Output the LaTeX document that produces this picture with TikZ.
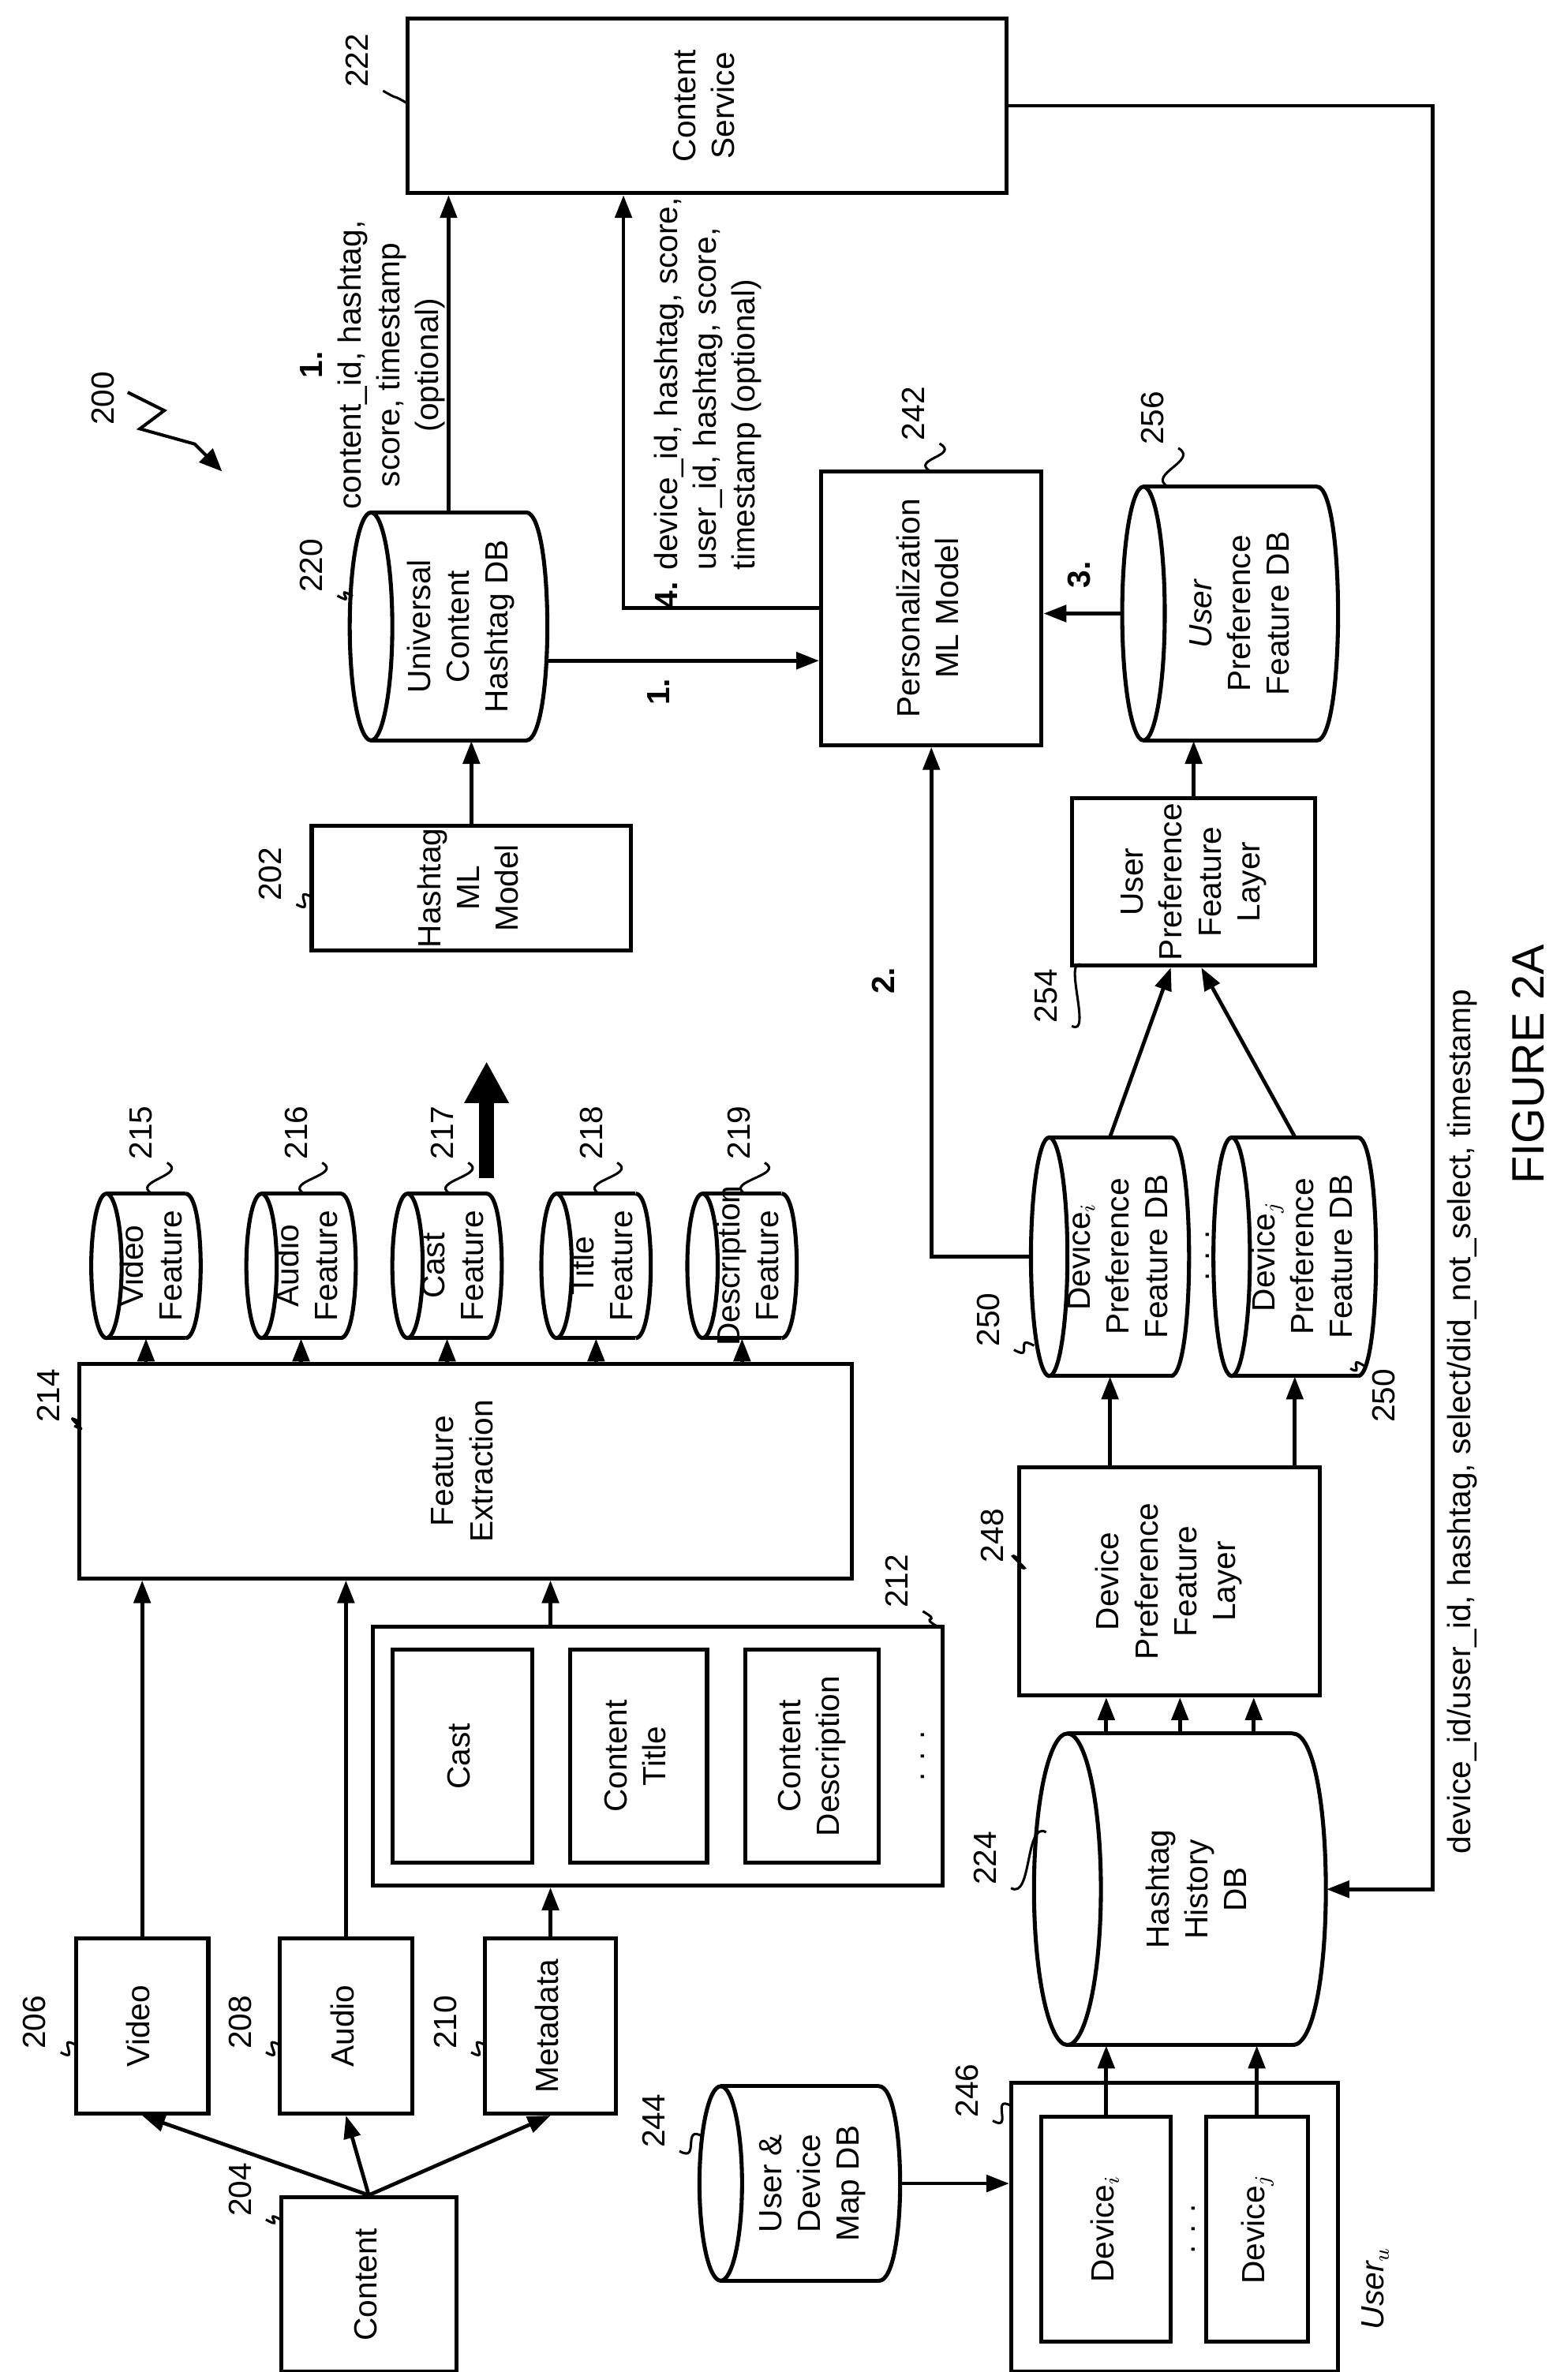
\documentclass[tikz,border=0pt]{standalone}
\usepackage{fontspec}
\setmainfont{Liberation Sans}
\usetikzlibrary{positioning,fit,arrows.meta}
\newcommand{\rt}[1]{\rotatebox{90}{\begin{tabular}{@{}c@{}}#1\end{tabular}}}
\newcommand{\rtl}[1]{\rotatebox{90}{\begin{tabular}{@{}l@{}}#1\end{tabular}}}
% box: name, x1, y1, x2, y2 (y downwards), text
\newcommand{\bx}[6]{%
  \node[box,fit={(#2,-#3)(#4,-#5)}] (#1) {};
  \node at (#1.center) {\rt{#6}};
}
% cylinder: name, x1, y1, x2, y2 (outer, y downwards), cap radius, text
\newcommand{\dbcyl}[7]{%
  \node[dbfit,fit={(#2,-#3)(#4,-#5)}] (#1) {};
  \node at ([xshift=#6*0.012cm]#1.center) {\rt{#7}};
  \draw[line] ({#2+#6},-#3) -- ({#4-#6},-#3);
  \draw[line] ({#2+#6},-#5) -- ({#4-#6},-#5);
  \draw[line] ({#2+#6},{-(#3+#5)/2}) ellipse [x radius={#6*0.02cm},y radius={(#5-#3)*0.01cm}];
  \draw[line] ({#4-#6},-#3) .. controls ({#4-#6+1.33*#6},-#3) and ({#4-#6+1.33*#6},-#5) .. ({#4-#6},-#5);
}
\tikzset{
  line/.style={line width=1.5pt},
  box/.style={draw,line width=1.5pt,inner sep=0pt},
  dbfit/.style={inner sep=0pt},
  arr/.style={line width=1.4pt,-{Triangle[length=0.3cm,width=0.22cm]}},
  num/.style={inner sep=1pt},
  wig/.style={line width=0.9pt},
}
\begin{document}
\begin{tikzpicture}[x=0.02cm,y=0.02cm,font=\fontsize{12}{14.5}\selectfont]
\useasboundingbox (0,0) rectangle (1031,-1560);
% boxes
\bx{cs}{268}{12}{662}{127}{Content\\Service}
\bx{hml}{205}{543}{415}{625}{Hashtag\\ML\\Model}
\bx{pers}{540}{310}{685}{490}{Personalization\\ML Model}
\bx{upl}{705}{525}{865}{635}{User\\Preference\\Feature\\Layer}
\bx{dpl}{670}{965}{868}{1115}{Device\\Preference\\Feature\\Layer}
\bx{fe}{52}{897}{560}{1038}{Feature\\Extraction}
\bx{video}{50}{1275}{137}{1390}{Video}
\bx{audio}{184}{1275}{271}{1390}{Audio}
\bx{meta}{319}{1275}{405}{1390}{Metadata}
\bx{content}{185}{1445}{300}{1560}{Content}
\bx{grp}{245}{1070}{620}{1240}{}
\bx{cast}{258}{1085}{350}{1225}{Cast}
\bx{ctitle}{375}{1085}{465}{1225}{Content\\Title}
\bx{cdesc}{490}{1085}{578}{1225}{Content\\Description}
\node at (603,-1155) {\rt{. . .}};
\bx{user}{665}{1370}{880}{1560}{}
\bx{devi}{685}{1392}{770}{1540}{Device$_i$}
\bx{devj}{793}{1392}{860}{1540}{Device$_j$}
\node at (781,-1466) {\rt{. . .}};
\node at (905,-1505) {\rt{\textit{User$_u$}}};
% databases
\dbcyl{udb}{230}{337}{360}{487}{14}{Universal\\Content\\Hashtag DB}
\dbcyl{upfdb}{738}{320}{880}{487}{14}{\textit{User}\\Preference\\Feature DB}
\dbcyl{dpdbi}{678}{748}{782}{905}{12}{Device$_i$\\Preference\\Feature DB}
\dbcyl{dpdbj}{798}{748}{905}{905}{12}{Device$_j$\\Preference\\Feature DB}
\node at (790,-826) {\rt{. . .}};
\dbcyl{hhdb}{680}{1140}{872}{1345}{22}{Hashtag\\History\\DB}
\dbcyl{umdb}{460}{1372}{592}{1500}{14}{User \&\\Device\\Map DB}
\dbcyl{fv}{60}{785}{132}{880}{10}{Video\\Feature}
\dbcyl{fa}{162}{785}{234}{880}{10}{Audio\\Feature}
\dbcyl{fc}{258}{785}{330}{880}{10}{Cast\\Feature}
\dbcyl{ft}{356}{785}{428}{880}{10}{Title\\Feature}
\dbcyl{fd}{452}{785}{524}{880}{10}{Description\\Feature}
% connectors
\draw[arr] (content.north) -- (video.south);
\draw[arr] (content.north) -- (audio.south);
\draw[arr] (content.north) -- (meta.south);
\draw[arr] (video.north) -- (video.north |- fe.south);
\draw[arr] (audio.north) -- (audio.north |- fe.south);
\draw[arr] (meta.north) -- (meta.north |- grp.south);
\draw[arr] (meta.north |- grp.north) -- (meta.north |- fe.south);
\foreach \f in {fv,fa,fc,ft,fd}
  \draw[arr] (\f.south |- fe.north) -- (\f.south);
\draw[line width=0.2cm,-{Triangle[width=0.55cm,length=0.55cm]}] (320,-775) -- (320,-698);
\draw[arr] (hml.north) -- (hml.north |- udb.south);
\draw[arr] (udb.north) -- (udb.north |- cs.south);
\draw[arr] ([yshift=-0.45cm]udb.east) -- ([yshift=-0.45cm]udb.east -| pers.west);
\draw[arr] (pers.west) -| ([xshift=-1.1cm]cs.south);
\draw[arr] (upfdb.west) -- (upfdb.west -| pers.east);
\draw[arr] (upl.north) -- (upl.north |- upfdb.south);
\draw[arr] (dpdbi.west) -| (pers.south);
\draw[arr] (dpdbi.north) -- ([xshift=-0.3cm]upl.south);
\draw[arr] (dpdbj.north) -- ([xshift=0.1cm]upl.south);
\draw[arr] (dpdbi.south |- dpl.north) -- (dpdbi.south);
\draw[arr] (dpdbj.south |- dpl.north) -- (dpdbj.south);
\foreach \s in {-1,0,1}
  \draw[arr] ([xshift=\s*0.97cm]hhdb.north) -- ([xshift=\s*0.97cm]hhdb.north |- dpl.south);
\draw[arr] (devi.north) -- (devi.north |- hhdb.south);
\draw[arr] (devj.north) -- (devj.north |- hhdb.south);
\draw[arr] (umdb.east) -- (umdb.east -| user.west);
\coordinate (bus) at (942,0);
\draw[arr] (cs.east) -| (bus |- hhdb.east) -- (hhdb.east);
% edge labels
\node (lab1) at (245,-240) {\rt{\textbf{1.}\\content\_id, hashtag,\\score, timestamp\\(optional)}};
\node (lab4) at (466,-265) {\rtl{\textbf{4.} device\_id, hashtag, score,\\\hphantom{\textbf{4.} }user\_id, hashtag, score,\\\hphantom{\textbf{4.} }timestamp (optional)}};
\node (lab1b) at (435,-455) {\rt{\textbf{1.}}};
\node (lab3) at (712,-378) {\rt{\textbf{3.}}};
\node (lab2) at (583,-645) {\rt{\textbf{2.}}};
\node (labsel) at (962,-935) {\rt{device\_id/user\_id, hashtag, select/did\_not\_select, timestamp}};
\node (fig) at (1005,-700) {\rotatebox{90}{\fontsize{17}{20}\selectfont FIGURE 2A}};
% reference numerals
\foreach \n/\x/\y/\tx/\ty in {222/237/40/268/68, 220/207/372/232/392, 202/180/575/205/590,
  242/603/272/612/310, 256/760/275/768/320, 254/690/655/712/635, 250/652/868/680/885,
  248/655/1010/670/1025, 224/650/1222/688/1205, 246/638/1375/665/1385, 244/432/1395/462/1405,
  212/592/1040/617/1070, 214/34/918/52/935, 206/25/1330/50/1345, 208/160/1330/184/1345,
  210/295/1330/319/1345, 204/160/1440/185/1460,
  215/95/745/100/785, 216/197/745/200/785, 217/293/745/296/785, 218/391/745/394/785, 219/488/745/490/785}
{
  \node[num] (n\n) at (\x,-\y) {\rt{\n}};
  \draw[wig] (n\n.south east) .. controls +(14,-8) and +(-14,8) .. (\tx,-\ty);
}
\node[num] (n250b) at (912,-918) {\rt{250}};
\draw[wig] (n250b.north west) .. controls +(-12,8) and +(10,-6) .. (888,-900);
% 200
\node[num] (n200) at (70,-262) {\rt{200}};
\draw[line width=1.2pt,-{Triangle[length=0.3cm,width=0.25cm]}] (84,-258) -- (108,-270) -- (92,-282) -- (128,-292) -- (146,-310);
\end{tikzpicture}
\end{document}
